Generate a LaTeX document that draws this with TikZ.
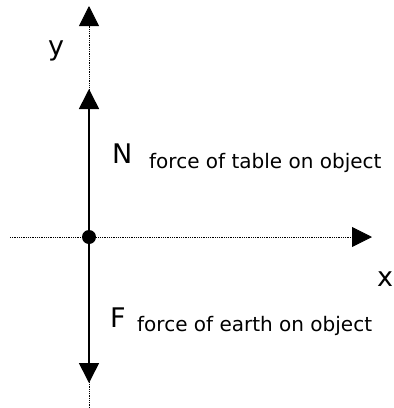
\documentclass[tikz,border=0pt]{standalone}
\usepackage{fontspec}
\setmainfont{DejaVu Sans}
\usetikzlibrary{arrows.meta}
\begin{document}
\begin{tikzpicture}[x=1pt, y=-1pt,
    axis/.style={densely dotted, line width=0.8pt, -{Triangle[width=20pt, length=20pt]}},
    force/.style={line width=1.6pt, -{Triangle[width=20pt, length=20pt]}},
    dot/.style={circle, fill=black, inner sep=0pt, minimum size=14pt},
    big/.style={font=\fontsize{27}{30}\selectfont, inner sep=0pt, anchor=base west},
    small/.style={font=\fontsize{20}{24}\selectfont, inner sep=0pt, anchor=base west}]
    \useasboundingbox (0,0) rectangle (394,408);
    \node[dot] (o) at (89,237) {};
    \coordinate (ytop) at (89,6);
    \coordinate (ybot) at (89,408);
    \coordinate (xl)   at (10,237);
    \coordinate (xr)   at (372,237);
    \coordinate (ntip) at (89,89);
    \coordinate (ftip) at (89,383);
    \draw[axis] (ybot) -- (ytop);
    \draw[axis] (xl) -- (xr);
    \foreach \t in {ntip, ftip}
        \draw[force] (o) -- (\t);
    \node[big] (ylab) at (48,55) {y};
    \node[big] (xlab) at (377,286) {x};
    \node[big] (nlab) at (112,163) {N};
    \node[small] (ntxt) at (149,168) {force of table on object};
    \node[big] (flab) at (110,327) {F};
    \node[small] (ftxt) at (137,331) {force of earth on object};
\end{tikzpicture}
\end{document}
